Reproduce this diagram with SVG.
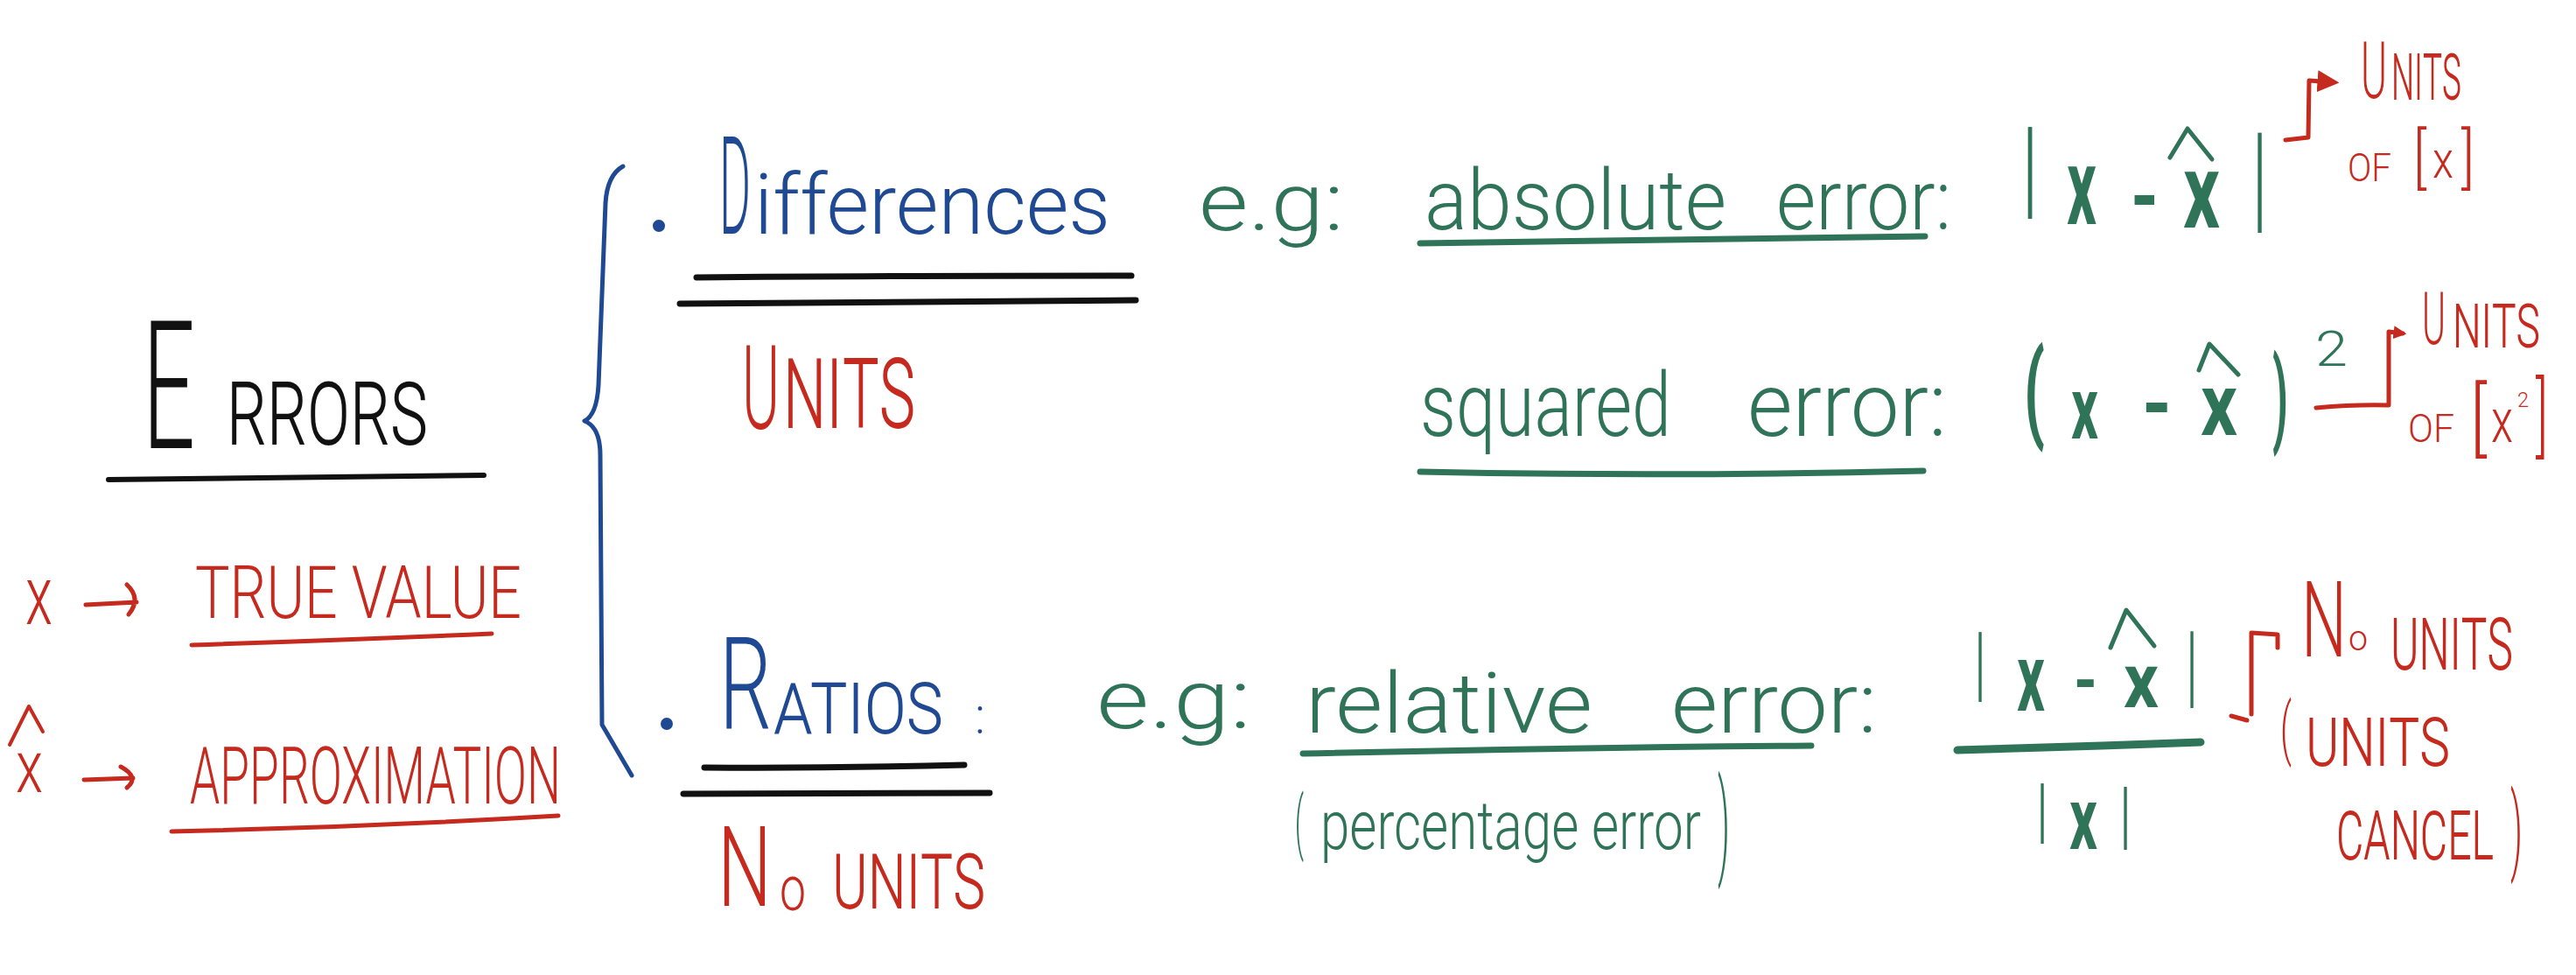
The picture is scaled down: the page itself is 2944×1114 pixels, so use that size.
<svg xmlns="http://www.w3.org/2000/svg" width="2944" height="1114" viewBox="0 0 2944 1114">
<defs>
<style>
text{font-family:Roboto,'Liberation Sans','DejaVu Sans',sans-serif;font-weight:300;}
.k{fill:#111}
.r{fill:#c62a1e}
.b{fill:#1f4a93}
.g{fill:#2f7458}
.sc{font-variant:small-caps}
.m{font-weight:700}
.ln{fill:none;stroke-linecap:round;stroke-linejoin:round}
.lk{stroke:#111}
.lr{stroke:#c62a1e}
.lb{stroke:#1f4a93}
.lg{stroke:#2f7458}
</style>
<marker id="ah" viewBox="0 0 10 10" refX="7" refY="5" markerWidth="5" markerHeight="5" orient="auto"><path d="M0,0 L10,5 L0,10 z" fill="#c62a1e"/></marker>
<marker id="ah2" viewBox="0 0 10 10" refX="7" refY="5" markerWidth="3" markerHeight="3" orient="auto"><path d="M0,0 L10,5 L0,10 z" fill="#c62a1e"/></marker>
</defs>
<rect width="2944" height="1114" fill="#fff"/>

<g id="errors">
<text class="k" transform="translate(163,0) scale(0.4,1)"><tspan x="0" y="512" font-size="205" textLength="150" lengthAdjust="spacingAndGlyphs">E</tspan><tspan class="sc" x="240" y="508" font-size="126" textLength="575" lengthAdjust="spacingAndGlyphs">rrors</tspan></text>
<path class="ln lk" stroke-width="6" d="M124,548 Q340,546 553,543"/>
</g>

<g id="x-true">
<text class="r" x="29" y="713" font-size="95" textLength="31" lengthAdjust="spacingAndGlyphs">x</text>
</g>
<g id="true-value">
<text class="r" x="223" y="706" font-size="84" textLength="373" lengthAdjust="spacingAndGlyphs">TRUE VALUE</text>
<path class="ln lr" stroke-width="5" d="M219,737 Q400,731 562,724"/>
</g>

<g id="x-hat">
<path class="ln lr" stroke-width="4" d="M11,851 L33,807 L49,836"/>
<text class="r" x="18" y="905" font-size="83" textLength="31" lengthAdjust="spacingAndGlyphs">x</text>
</g>
<g id="approximation">
<text class="r" transform="translate(217,0) scale(0.6,1)" x="0" y="918" font-size="90" textLength="706.7" lengthAdjust="spacingAndGlyphs">APPROXIMATION</text>
<path class="ln lr" stroke-width="5" d="M196,950 Q420,945 638,932"/>
</g>

<g id="differences">
<circle class="b" cx="753" cy="258" r="7"/>
<text class="b" transform="translate(822,0) scale(0.35,1)"><tspan x="0" y="267" font-size="155" textLength="102.9" lengthAdjust="spacingAndGlyphs">D</tspan><tspan x="114.3" y="267" font-size="96" textLength="1162.9" lengthAdjust="spacingAndGlyphs">ifferences</tspan></text>
<path class="ln lk" stroke-width="7" d="M796,317 Q1000,315 1293,315"/>
<path class="ln lk" stroke-width="7" d="M777,347 Q1000,345 1298,343"/>
</g>
<g id="units-1">
<text class="r sc" transform="translate(848,0) scale(0.45,1)"><tspan x="0" y="490" font-size="133" textLength="95.6" lengthAdjust="spacingAndGlyphs">U</tspan><tspan x="104.4" y="489" font-size="140" textLength="335.6" lengthAdjust="spacingAndGlyphs">nits</tspan></text>
</g>

<g id="eg-1">
<text class="g" x="1370" y="263" font-size="92" textLength="166" lengthAdjust="spacingAndGlyphs">e.g:</text>
</g>
<g id="absolute-error">
<text class="g" font-size="96"><tspan x="1628" y="262" textLength="345" lengthAdjust="spacingAndGlyphs">absolute</tspan> <tspan x="2030" y="262" textLength="200" lengthAdjust="spacingAndGlyphs">error:</tspan></text>
<path class="ln lg" stroke-width="7" d="M1623,278 Q1900,273 2200,270"/>
</g>
<g id="abs-formula">
<text class="g m"><tspan x="2313" y="234" font-size="125" textLength="14" lengthAdjust="spacingAndGlyphs">|</tspan><tspan x="2362" y="256" font-size="125" textLength="34" lengthAdjust="spacingAndGlyphs">x</tspan><tspan x="2435" y="259" font-size="100" textLength="32" lengthAdjust="spacingAndGlyphs">-</tspan><tspan x="2495" y="260" font-size="120" textLength="42" lengthAdjust="spacingAndGlyphs">x</tspan><tspan x="2576" y="248" font-size="135" textLength="13" lengthAdjust="spacingAndGlyphs">|</tspan></text>
<path class="ln lg" stroke-width="5" d="M2480,180 L2500,147 L2528,182"/>
</g>
<g id="units-of-x">
<text class="r sc" transform="translate(2698,0) scale(0.6,1)"><tspan x="0" y="112" font-size="90" textLength="50" lengthAdjust="spacingAndGlyphs">U</tspan><tspan x="58.3" y="114" font-size="94" textLength="133.3" lengthAdjust="spacingAndGlyphs">nits</tspan></text>
<text class="r" transform="translate(2683,0) scale(0.6,1)"><tspan x="0" y="207" font-size="44" textLength="83.3" lengthAdjust="spacingAndGlyphs">OF</tspan> <tspan x="125" y="206" font-size="76" textLength="25" lengthAdjust="spacingAndGlyphs">[</tspan><tspan x="161.7" y="203" font-size="60" textLength="40" lengthAdjust="spacingAndGlyphs">x</tspan><tspan x="216.7" y="206" font-size="76" textLength="25" lengthAdjust="spacingAndGlyphs">]</tspan></text>
</g>

<g id="squared-error">
<text class="g" font-size="102"><tspan x="1623" y="498" textLength="287" lengthAdjust="spacingAndGlyphs">squared</tspan> <tspan x="1997" y="498" textLength="228" lengthAdjust="spacingAndGlyphs">error:</tspan></text>
<path class="ln lg" stroke-width="7" d="M1623,539 Q1900,545 2198,538"/>
</g>
<g id="sq-formula">
<text class="g m"><tspan x="2313" y="489" font-size="125" textLength="24" lengthAdjust="spacingAndGlyphs">(</tspan><tspan x="2367" y="501" font-size="100" textLength="31" lengthAdjust="spacingAndGlyphs">x</tspan><tspan x="2448" y="496" font-size="100" textLength="34" lengthAdjust="spacingAndGlyphs">-</tspan><tspan x="2515" y="497" font-size="100" textLength="42" lengthAdjust="spacingAndGlyphs">x</tspan><tspan x="2597" y="495" font-size="120" textLength="18" lengthAdjust="spacingAndGlyphs">)</tspan></text>
<text class="g" font-weight="400" x="2646" y="418" font-size="56" textLength="37" lengthAdjust="spacingAndGlyphs">2</text>
<path class="ln lg" stroke-width="5" d="M2513,423 L2525,393 L2558,428"/>
</g>
<g id="units-of-x2">
<text class="r sc" transform="translate(2768,0) scale(0.6,1)"><tspan x="0" y="393" font-size="84" textLength="45" lengthAdjust="spacingAndGlyphs">U</tspan><tspan x="58.3" y="397" font-size="88" textLength="166.7" lengthAdjust="spacingAndGlyphs">nits</tspan></text>
<text class="r" transform="translate(2752,0) scale(0.6,1)"><tspan x="0" y="505" font-size="45" textLength="88.3" lengthAdjust="spacingAndGlyphs">OF</tspan> <tspan x="118.3" y="510" font-size="93" textLength="31.7" lengthAdjust="spacingAndGlyphs">[</tspan><tspan x="158.3" y="505" font-size="70" textLength="41.7" lengthAdjust="spacingAndGlyphs">x</tspan><tspan x="208.3" y="465" font-size="24" textLength="21.7" lengthAdjust="spacingAndGlyphs">2</tspan><tspan x="243.3" y="510" font-size="100" textLength="23.3" lengthAdjust="spacingAndGlyphs">]</tspan></text>
</g>

<g id="ratios">
<circle class="b" cx="762" cy="827" r="7"/>
<text class="b" transform="translate(822,0) scale(0.6,1)"><tspan x="0" y="833" font-size="147" textLength="100" lengthAdjust="spacingAndGlyphs">R</tspan><tspan class="sc" x="103.3" y="838" font-size="102" textLength="323.3" lengthAdjust="spacingAndGlyphs">atios</tspan> <tspan x="486.7" y="838" font-size="60" textLength="20" lengthAdjust="spacingAndGlyphs">:</tspan></text>
<path class="ln lk" stroke-width="7" d="M805,877 Q950,878 1102,874"/>
<path class="ln lk" stroke-width="7" d="M781,907 Q950,907 1131,906"/>
</g>
<g id="no-units-1">
<text class="r" transform="translate(820,0) scale(0.6,1)"><tspan x="0" y="1035" font-size="128" textLength="103.3" lengthAdjust="spacingAndGlyphs">N</tspan><tspan x="118.3" y="1040" font-size="73" textLength="50" lengthAdjust="spacingAndGlyphs">o</tspan> <tspan class="sc" x="218.3" y="1038" font-size="110" textLength="291.7" lengthAdjust="spacingAndGlyphs">units</tspan></text>
</g>

<g id="eg-3">
<text class="g" x="1253" y="832" font-size="94" textLength="177" lengthAdjust="spacingAndGlyphs">e.g:</text>
</g>
<g id="relative-error">
<text class="g" font-size="96"><tspan x="1492" y="837" textLength="328" lengthAdjust="spacingAndGlyphs">relative</tspan> <tspan x="1910" y="837" textLength="235" lengthAdjust="spacingAndGlyphs">error:</tspan></text>
<path class="ln lg" stroke-width="7" d="M1489,861 Q1800,854 2070,852"/>
<text class="g" transform="translate(1480,0) scale(0.7,1)"><tspan x="0" y="967" font-size="80" textLength="14.3" lengthAdjust="spacingAndGlyphs">(</tspan><tspan x="41.4" y="970" font-size="77" textLength="621.4" lengthAdjust="spacingAndGlyphs">percentage error</tspan><tspan x="690" y="986" font-size="131" textLength="20" lengthAdjust="spacingAndGlyphs">)</tspan></text>
</g>
<g id="rel-formula">
<text class="g m"><tspan x="2258" y="790" font-size="94" textLength="10" lengthAdjust="spacingAndGlyphs">|</tspan><tspan x="2305" y="812" font-size="110" textLength="32" lengthAdjust="spacingAndGlyphs">x</tspan><tspan x="2370" y="805" font-size="80" textLength="27" lengthAdjust="spacingAndGlyphs">-</tspan><tspan x="2427" y="808" font-size="87" textLength="40" lengthAdjust="spacingAndGlyphs">x</tspan><tspan x="2500" y="795" font-size="103" textLength="10" lengthAdjust="spacingAndGlyphs">|</tspan></text>
<path class="ln lg" stroke-width="5" d="M2412,740 L2430,697 L2462,738"/>
<path class="ln lg" stroke-width="9" d="M2237,857 Q2380,853 2515,848"/>
<text class="g m"><tspan x="2329" y="953" font-size="82" textLength="10" lengthAdjust="spacingAndGlyphs">|</tspan><tspan x="2365" y="970" font-size="100" textLength="32" lengthAdjust="spacingAndGlyphs">x</tspan><tspan x="2424" y="960" font-size="85" textLength="10" lengthAdjust="spacingAndGlyphs">|</tspan></text>
</g>
<g id="no-units-2">
<text class="r" transform="translate(2630,0) scale(0.6,1)"><tspan x="0" y="750" font-size="121" textLength="86.7" lengthAdjust="spacingAndGlyphs">N</tspan><tspan x="90" y="743" font-size="40" textLength="36.7" lengthAdjust="spacingAndGlyphs">o</tspan> <tspan class="sc" x="170" y="765" font-size="104" textLength="233.3" lengthAdjust="spacingAndGlyphs">units</tspan></text>
<text class="r" transform="translate(2606,0) scale(0.6,1)"><tspan x="0" y="859" font-size="78" textLength="21.7" lengthAdjust="spacingAndGlyphs">(</tspan><tspan class="sc" x="48.3" y="875" font-size="96" textLength="275" lengthAdjust="spacingAndGlyphs">units</tspan></text>
<text class="r" transform="translate(2670,0) scale(0.6,1)"><tspan class="sc" x="0" y="982" font-size="98" textLength="300" lengthAdjust="spacingAndGlyphs">cancel</tspan><tspan x="331.7" y="985" font-size="110" textLength="23.3" lengthAdjust="spacingAndGlyphs">)</tspan></text>
</g>

<g id="connectors">
<path class="ln lb" stroke-width="5" d="M712,190 Q694,200 692,232 L684,440 Q682,474 668,481 Q686,488 686,520 L688,828 L722,886"/>
<path class="ln lr" stroke-width="5" d="M98,691 L156,688 M145,668 Q162,684 147,702"/>
<path class="ln lr" stroke-width="5" d="M96,891 L152,889 M138,876 Q160,888 145,900"/>
<path class="ln lr" stroke-width="5" d="M2612,160 L2638,157 L2639,92 L2666,94" marker-end="url(#ah)"/>
<path class="ln lr" stroke-width="5" d="M2647,466 Q2690,462 2730,463 L2730,379 L2746,381" marker-end="url(#ah2)"/>
<path class="ln lr" stroke-width="5" d="M2550,818 L2568,823 M2573,816 L2573,723 L2603,725 L2603,740"/>
</g>
</svg>
